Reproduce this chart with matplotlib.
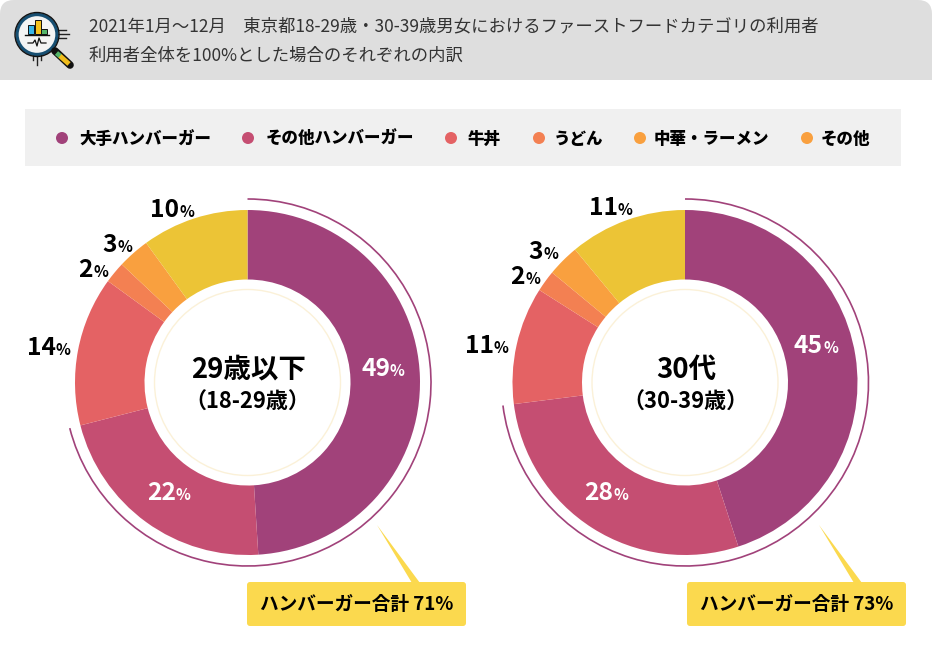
import matplotlib
matplotlib.use("Agg")
import matplotlib.pyplot as plt
from matplotlib.patches import FancyBboxPatch, Rectangle, Circle, Arc, Polygon

plt.rcParams['font.family'] = ['Noto Sans CJK JP', 'DejaVu Sans']

# ---- data ----
categories = ['大手ハンバーガー', 'その他ハンバーガー', '牛丼', 'うどん', '中華・ラーメン', 'その他']
under29 = [49, 22, 14, 2, 3, 10]
thirties = [45, 28, 11, 2, 3, 11]
burger_total = [71, 73]
titles = ['29歳以下', '30代']
subtitles = ['（18-29歳）', '（30-39歳）']
header_lines = ['2021年1月～12月　東京都18-29歳・30-39歳男女におけるファーストフードカテゴリの利用者',
                '利用者全体を100%とした場合のそれぞれの内訳']
pie_colors = ['#a1427a', '#c54e72', '#e46264', '#f38052', '#f9a03f', '#ecc436']
legend_colors = ['#a1427a', '#c54e72', '#e46264', '#f38052', '#f9a03f', '#f9a03f']

W, H = 932, 663
fig = plt.figure(figsize=(W / 100, H / 100), dpi=100)
ax = fig.add_axes([0, 0, 1, 1])


def Y(py):
    return H - py


def px(v):
    return v * 0.72


def draw_donut(cx, cy, values, title, subtitle, total, label_pos, dark):
    ax.pie(values, colors=pie_colors, startangle=90, counterclock=False,
           center=(cx, Y(cy)), radius=172.5,
           wedgeprops=dict(width=69.5, linewidth=0))
    ax.add_patch(Circle((cx, Y(cy)), 93, fill=False, ec='#fbf1d8', lw=1, zorder=3))
    sweep = total / 100 * 360
    ax.add_patch(Arc((cx, Y(cy)), 367, 367, theta1=90 - sweep, theta2=90,
                     ec='#a1427a', lw=1.2, zorder=3))
    ax.text(cx + 1, Y(cy - 13), title, ha='center', va='center', fontsize=px(27.5),
            fontweight='bold', color='#000000', zorder=4)
    ax.text(cx, Y(cy + 20), subtitle, ha='center', va='center', fontsize=px(22),
            fontweight='bold', color='#000000', zorder=4)
    for v, (lx, ly), d in zip(values, label_pos, dark):
        c = '#000000' if d else 'white'
        ax.text(lx, Y(ly + 9), str(v), ha='right', va='baseline', fontsize=px(24.6),
                fontweight='bold', color=c, zorder=4)
        ax.text(lx, Y(ly + 9), '%', ha='left', va='baseline', fontsize=px(15.5),
                fontweight='bold', color=c, zorder=4)


def draw_callout(x0, tip_x, total):
    ax.add_patch(Polygon([(tip_x, Y(525)), (tip_x + 35, Y(583)), (tip_x + 43, Y(583))],
                         fc='#fbd94e', ec='none', zorder=2))
    ax.add_patch(FancyBboxPatch((x0 + 2, Y(624)), 215, 40,
                                boxstyle='round,pad=2,rounding_size=3',
                                fc='#fbd94e', ec='none', zorder=2))
    ax.text(x0 + 109.5, Y(604), f'ハンバーガー合計 {total}%', ha='center', va='center',
            fontsize=px(18.7), fontweight='bold', color='#000000', zorder=4)


# header
hdr = FancyBboxPatch((0, Y(110)), W, 110, boxstyle='round,pad=0,rounding_size=14',
                     fc='#dedede', ec='none')
ax.add_patch(hdr)
hdr.set_clip_path(Rectangle((0, Y(80)), W, 80, transform=ax.transData))
for line, y in zip(header_lines, [26, 56]):
    ax.text(89, Y(y), line, ha='left', va='center', fontsize=px(17.38), color='#333333')

# icon
ax.plot([55, 70], [Y(51), Y(65)], color='#111111', lw=5.5, solid_capstyle='round', zorder=5)
ax.plot([59.5, 69], [Y(55.5), Y(64)], color='#f0bd1c', lw=3.5, solid_capstyle='butt', zorder=6)
ax.plot([56.5, 60], [Y(53), Y(56)], color='#55b56a', lw=3.5, solid_capstyle='butt', zorder=7)
for x0, y0, x1 in [(58, 30, 66), (58, 34, 69), (58, 38, 66)]:
    ax.plot([x0, x1], [Y(y0), Y(y0)], color='#222222', lw=1)
for x0, y1 in [(33, 60), (37, 65), (41, 60)]:
    ax.plot([x0, x0], [Y(55), Y(y1)], color='#222222', lw=1)
ax.add_patch(Circle((37, Y(34.5)), 20, fc='#f4f4f4', ec='#174f72', lw=2.4, zorder=3))
ax.add_patch(Circle((37, Y(34.5)), 22, fill=False, ec='#111111', lw=1.0, zorder=3))
for bx, bt, bw, bh, bc in [(28, 25, 6, 9, '#38b6e8'), (35, 20, 6, 14, '#f4c21f'),
                           (41, 29, 6, 5, '#55b56a')]:
    ax.add_patch(Rectangle((bx, Y(bt + bh)), bw, bh, fc=bc, ec='#111111', lw=0.7, zorder=4))
ax.plot([25, 49], [Y(34.5), Y(34.5)], color='#111111', lw=1, zorder=4)
ax.plot([28, 33, 35, 37, 39, 41, 46], [Y(43), Y(43), Y(40), Y(46), Y(38), Y(43), Y(43)],
        color='#111111', lw=0.9, zorder=4)

# legend band
ax.add_patch(Rectangle((25, Y(166)), 876, 57, fc='#f0f0f0', ec='none'))
legend_dot_x = [62, 248, 451, 539, 640, 807]
legend_text_x = [79, 266, 468, 554, 654, 821]
for name, c, dx, tx in zip(categories, legend_colors, legend_dot_x, legend_text_x):
    ax.add_patch(Circle((dx, Y(138)), 6, fc=c, ec='none'))
    ax.text(tx, Y(138.5), name, ha='left', va='center', fontsize=px(16.5),
            fontweight='heavy', color='#000000')

# donuts
dark_flags = [False, False, True, True, True, True]
draw_donut(247.5, 382.5, under29, titles[0], subtitles[0], burger_total[0],
           [(390, 367), (176, 491), (56, 346), (93, 268), (117, 243), (179, 208)], dark_flags)
draw_donut(685, 382.5, thirties, titles[1], subtitles[1], burger_total[1],
           [(823, 344), (613, 491), (494, 344), (525, 275), (543, 250), (618, 206)], dark_flags)
draw_callout(247, 377, burger_total[0])
draw_callout(687, 819, burger_total[1])

ax.set_xlim(0, W)
ax.set_ylim(0, H)
ax.set_aspect('auto')
ax.axis('off')
fig.savefig('out.png', dpi=100)
